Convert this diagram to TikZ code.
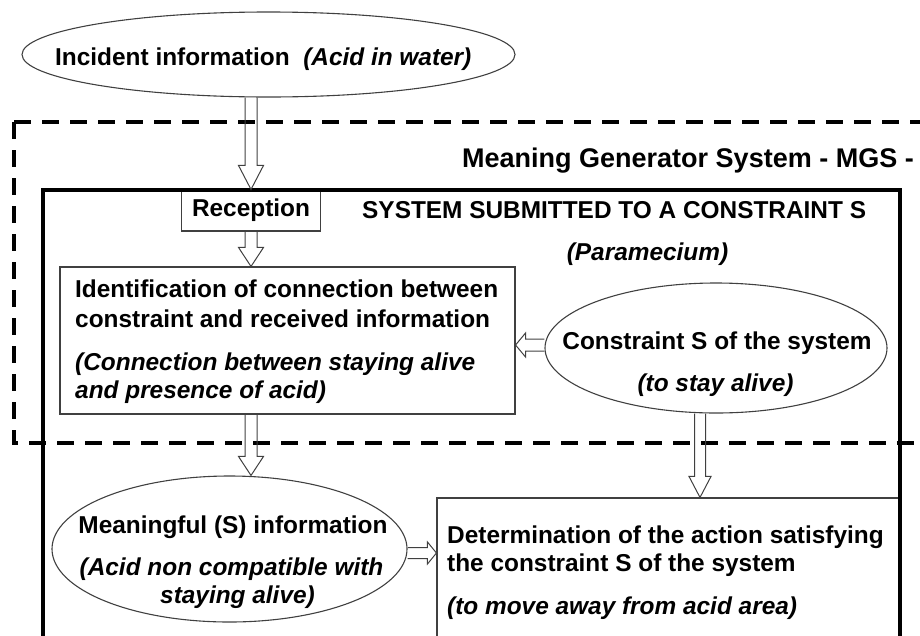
\documentclass[tikz,border=0pt]{standalone}
\usepackage{fontspec}
\setmainfont{Liberation Sans}
\usepackage{tikz}
\usetikzlibrary{calc,shapes.geometric}

% hollow block arrow: start, tip, head length, half shaft, half head
\newcommand{\fatarrow}[5]{%
  \coordinate (fa) at (#1);
  \coordinate (fb) at (#2);
  \coordinate (fh) at ($(fb)!#3!(fa)$);
  \draw[fatline] ($(fa)!#4!90:(fb)$) -- ($(fh)!#4!-90:(fa)$) -- ($(fh)!#5!-90:(fa)$) -- (fb)
    -- ($(fh)!#5!90:(fa)$) -- ($(fh)!#4!90:(fa)$) -- ($(fa)!#4!-90:(fb)$);}

\tikzset{
  txt/.style={inner sep=0pt, font=\fontsize{24.4}{29}\selectfont\bfseries},
  itxt/.style={inner sep=0pt, font=\fontsize{24.4}{29}\selectfont\bfseries\itshape},
  bubble/.style={ellipse, draw=black!75, line width=1.1pt, inner sep=0pt},
  panel/.style={rectangle, draw=black!75, line width=1.1pt, inner sep=0pt,
    font=\fontsize{24.4}{29}\selectfont\bfseries},
  fatline/.style={draw=black!75, line width=1pt, line join=miter},
  mgsframe/.style={line width=4pt, dash pattern=on 17pt off 11pt},
  sysframe/.style={line width=3.5pt},
}

\begin{document}
\begin{tikzpicture}[x=1pt,y=-1pt]
    \useasboundingbox (0,0) rectangle (920,635);
    \clip (0,0) rectangle (920,635);

    % shapes
    \node[bubble, minimum width=493, minimum height=85] (inc) at (268.5,54.5) {};
    \node[bubble, minimum width=342, minimum height=130] (cons) at (716,348) {};
    \node[bubble, minimum width=355, minimum height=146] (mean) at (229.5,549) {};
    \node[panel, minimum width=139, minimum height=41] (recep) at (251,210.5) {Reception};
    \node[panel, minimum width=455, minimum height=147] (ident) at (287.5,340.5) {};
    \node[panel, minimum width=463, minimum height=160] (dtm) at (668.5,578) {};

    % frames
    \draw[mgsframe] (14,122) -- (940,122);
    \draw[mgsframe] (14,122) -- (14,443) -- (940,443);
    \draw[sysframe] (43,660) -- (43,190) -- (900,190) -- (900,660);

    % texts
    \node[txt, anchor=base west] (inctxt) at (55,65) {Incident information\ \ \textit{(Acid in water)}};
    \node[txt, anchor=base west, font=\fontsize{27}{32}\selectfont\bfseries] (mgs) at (462,167) {Meaning Generator System - MGS -};
    \node[txt, anchor=base west] (sys) at (362,218) {SYSTEM SUBMITTED TO A CONSTRAINT S};
    \node[itxt, anchor=base] (param) at (647.5,260) {(Paramecium)};
    \node[txt, anchor=base west] (id1) at (75,297.7) {Identification of connection between};
    \node[txt, anchor=base west] (id2) at (75,327.7) {constraint and received information};
    \node[itxt, anchor=base west] (id3) at (75,370) {(Connection between staying alive};
    \node[itxt, anchor=base west] (id4) at (75,398.5) {and presence of acid)};
    \node[txt, anchor=base] (cons1) at (717,349) {Constraint S of the system};
    \node[itxt, anchor=base] (cons2) at (715.5,391) {(to stay alive)};
    \node[txt, anchor=base] (mean1) at (233,533) {Meaningful (S) information};
    \node[itxt, anchor=base] (mean2) at (231.5,575) {(Acid non compatible with};
    \node[itxt, anchor=base] (mean3) at (237.5,603) {staying alive)};
    \node[txt, anchor=base west] (dtm1) at (447,543) {Determination of the action satisfying};
    \node[txt, anchor=base west] (dtm2) at (447,571.7) {the constraint S of the system};
    \node[itxt, anchor=base west] (dtm3) at (447,614) {(to move away from acid area)};

    % arrows
    \coordinate (k) at ($(cons.south)+(-16,0)$);
    \coordinate (cw) at ($(cons.west)+(0,-3)$);
    \coordinate (me) at ($(mean.east)+(0,4)$);
    \fatarrow{recep.north |- inc.south}{recep.north}{24pt}{6pt}{12.5pt}
    \fatarrow{recep.south}{recep.south |- ident.north}{19pt}{6pt}{12.5pt}
    \fatarrow{recep.south |- ident.south}{recep.south |- mean.north}{19pt}{6pt}{12.5pt}
    \fatarrow{cw}{cw -| ident.east}{10pt}{6pt}{12pt}
    \fatarrow{k}{k |- dtm.north}{21pt}{5.5pt}{11pt}
    \fatarrow{me}{me -| dtm.west}{9pt}{5.5pt}{11pt}
\end{tikzpicture}
\end{document}
